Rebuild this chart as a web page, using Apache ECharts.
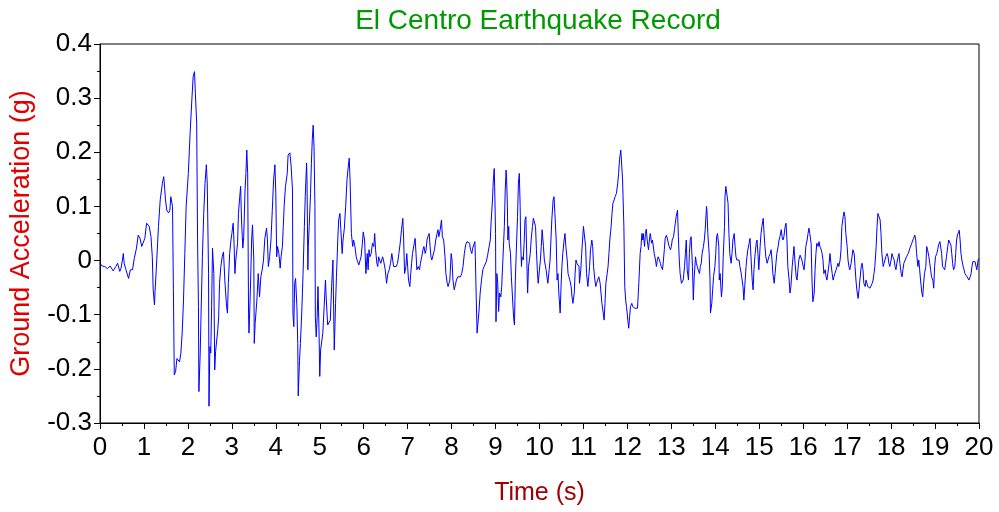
<!DOCTYPE html>
<html><head><meta charset="utf-8">
<script src="https://cdn.jsdelivr.net/npm/echarts@6/dist/echarts.min.js"></script>
<style>html,body{margin:0;padding:0;background:#fff}#c{width:999px;height:512px}</style>
</head><body><div id="c"></div>
<script>
var titleText = 'El Centro Earthquake Record';
var xName = 'Time (s)';
var yName = 'Ground Acceleration (g)';
var time = [
0.00,0.05,0.11,0.17,0.23,0.27,0.30,0.36,0.40,0.45,0.48,0.51,0.53,0.55,0.58,0.65,0.69,0.74,0.78,0.83,0.87,0.91,0.95,0.99,
1.02,1.06,1.09,1.12,1.16,1.19,1.21,1.24,1.25,1.28,1.33,1.37,1.42,1.45,1.46,1.49,1.52,1.56,1.59,1.61,1.62,1.65,1.67,1.69,1.72,1.75,1.78,1.81,1.84,1.87,1.90,1.93,1.96,2.00,
2.01,2.05,2.09,2.12,2.15,2.17,2.20,2.22,2.24,2.25,2.28,2.30,2.33,2.36,2.39,2.42,2.44,2.47,2.48,2.50,2.52,2.54,2.56,2.59,2.61,2.63,2.66,2.68,2.70,2.72,2.75,2.78,2.81,2.84,2.88,2.90,2.92,2.95,2.98,
3.00,3.03,3.05,3.07,3.09,3.13,3.15,3.18,3.20,3.22,3.25,3.27,3.30,3.32,3.34,3.36,3.38,3.39,3.42,3.45,3.47,3.50,3.51,3.53,3.55,3.57,3.60,3.63,3.66,3.69,3.72,3.75,3.79,3.81,3.83,3.86,3.89,3.92,3.95,3.98,
4.00,4.02,4.04,4.07,4.10,4.12,4.15,4.17,4.19,4.22,4.26,4.28,4.30,4.32,4.35,4.38,4.39,4.41,4.43,4.45,4.48,4.50,4.51,4.54,4.56,4.59,4.62,4.65,4.67,4.70,4.71,4.73,4.74,4.76,4.79,4.81,4.83,4.85,4.87,4.89,4.90,4.92,4.94,4.96,4.98,
5.00,5.02,5.04,5.07,5.10,5.13,5.15,5.18,5.21,5.24,5.27,5.30,5.33,5.36,5.38,5.41,5.43,5.46,5.48,5.51,5.53,5.56,5.59,5.62,5.64,5.67,5.69,5.72,5.75,5.77,5.80,5.83,5.86,5.89,5.92,5.94,5.97,5.99,
6.02,6.05,6.08,6.10,6.12,6.14,6.17,6.20,6.23,6.25,6.27,6.30,6.32,6.34,6.36,6.39,6.41,6.43,6.45,6.49,6.52,6.55,6.58,6.61,6.64,6.66,6.68,6.71,6.74,6.77,6.80,6.83,6.86,6.89,6.91,6.93,6.96,6.98,
7.00,7.02,7.05,7.07,7.09,7.11,7.15,7.17,7.19,7.21,7.24,7.27,7.29,7.32,7.35,7.37,7.40,7.42,7.44,7.46,7.49,7.51,7.53,7.55,7.58,7.61,7.64,7.67,7.69,7.71,7.74,7.77,7.79,7.82,7.85,7.87,7.90,7.92,7.94,7.96,7.99,
8.01,8.03,8.06,8.11,8.14,8.17,8.20,8.23,8.26,8.29,8.32,8.35,8.38,8.41,8.43,8.46,8.48,8.50,8.53,8.54,8.56,8.58,8.60,8.62,8.65,8.68,8.71,8.74,8.77,8.79,8.82,8.85,8.88,8.90,8.93,8.95,8.97,8.98,
9.00,9.01,9.03,9.05,9.07,9.09,9.12,9.14,9.17,9.20,9.22,9.24,9.25,9.27,9.28,9.30,9.31,9.34,9.36,9.38,9.41,9.43,9.45,9.47,9.50,9.52,9.54,9.56,9.57,9.59,9.60,9.63,9.65,9.67,9.69,9.72,9.73,9.75,9.77,9.79,9.81,9.84,9.86,9.88,9.91,9.93,9.95,9.97,
10.00,10.02,10.04,10.06,10.09,10.11,10.13,10.15,10.17,10.19,10.22,10.24,10.26,10.28,10.31,10.33,10.35,10.38,10.40,10.42,10.44,10.47,10.49,10.51,10.53,10.56,10.58,10.60,10.63,10.65,10.67,10.69,10.72,10.74,10.76,10.79,10.81,10.83,10.85,10.88,10.90,10.91,10.94,10.96,10.98,
11.00,11.03,11.05,11.07,11.10,11.12,11.14,11.16,11.19,11.21,11.23,11.26,11.28,11.30,11.32,11.35,11.38,11.40,11.42,11.45,11.47,11.49,11.51,11.54,11.56,11.58,11.60,11.63,11.65,11.67,11.70,11.72,11.75,11.78,11.80,11.82,11.85,11.87,11.89,11.92,11.94,11.96,11.98,
12.01,12.03,12.05,12.07,12.10,12.12,12.14,12.17,12.20,12.23,12.25,12.26,12.29,12.31,12.33,12.35,12.36,12.39,12.41,12.43,12.45,12.48,12.50,12.52,12.55,12.57,12.59,12.61,12.64,12.66,12.68,12.70,12.73,12.75,12.77,12.80,12.82,12.84,12.86,12.89,12.91,12.93,12.95,12.98,
13.00,13.02,13.05,13.07,13.09,13.11,13.14,13.16,13.18,13.20,13.23,13.25,13.27,13.30,13.32,13.34,13.36,13.39,13.41,13.43,13.45,13.48,13.50,13.52,13.55,13.57,13.59,13.61,13.64,13.66,13.68,13.70,13.73,13.75,13.77,13.80,13.81,13.83,13.86,13.88,13.89,13.92,13.94,13.96,13.99,
14.01,14.03,14.05,14.08,14.09,14.11,14.14,14.16,14.18,14.21,14.22,14.24,14.27,14.29,14.31,14.33,14.36,14.38,14.40,14.43,14.45,14.47,14.49,14.52,14.54,14.56,14.59,14.61,14.63,14.65,14.68,14.70,14.72,14.74,14.77,14.79,14.81,14.84,14.86,14.88,14.90,14.93,14.95,14.97,14.99,
15.02,15.04,15.06,15.09,15.11,15.13,15.15,15.18,15.20,15.22,15.25,15.27,15.29,15.31,15.34,15.36,15.38,15.40,15.43,15.45,15.47,15.50,15.52,15.54,15.56,15.59,15.61,15.63,15.65,15.68,15.70,15.72,15.75,15.77,15.79,15.81,15.84,15.86,15.88,15.90,15.93,15.95,15.97,
16.00,16.02,16.04,16.06,16.09,16.11,16.13,16.15,16.18,16.20,16.22,16.25,16.27,16.29,16.31,16.34,16.36,16.38,16.41,16.43,16.45,16.47,16.50,16.52,16.54,16.56,16.59,16.61,16.63,16.66,16.68,16.70,16.72,16.75,16.77,16.79,16.81,16.84,16.86,16.88,16.91,16.93,16.95,16.97,
17.00,17.02,17.04,17.06,17.09,17.11,17.13,17.16,17.18,17.20,17.22,17.25,17.27,17.29,17.32,17.34,17.36,17.38,17.41,17.43,17.45,17.47,17.50,17.52,17.54,17.57,17.59,17.61,17.63,17.66,17.68,17.70,17.72,17.75,17.77,17.79,17.82,17.84,17.86,17.88,17.91,17.93,17.95,17.97,
18.00,18.02,18.04,18.07,18.09,18.11,18.13,18.16,18.18,18.20,18.23,18.25,18.27,18.29,18.32,18.35,18.39,18.43,18.47,18.51,18.54,18.56,18.58,18.61,18.63,18.65,18.67,18.70,18.72,18.74,18.76,18.79,18.81,18.83,18.86,18.88,18.90,18.92,18.95,18.97,18.99,
19.01,19.04,19.06,19.08,19.11,19.13,19.15,19.17,19.20,19.22,19.24,19.26,19.29,19.31,19.33,19.36,19.38,19.40,19.42,19.45,19.47,19.49,19.51,19.55,19.57,19.59,19.61,19.64,19.66,19.68,19.70,19.73,19.75,19.77,19.80,19.82,19.84,19.86,19.89,19.91,19.93,19.95,19.98,20.00
];
var accel = [
-0.005,-0.010,-0.011,-0.015,-0.010,-0.011,-0.019,-0.011,-0.005,-0.020,-0.014,0.001,0.013,-0.005,-0.014,-0.033,-0.017,-0.017,0.004,0.023,0.047,0.041,0.026,0.023,
0.041,0.069,0.072,0.063,0.044,0.007,-0.054,-0.082,-0.060,-0.017,0.063,0.112,0.143,0.155,0.146,0.112,0.093,0.088,0.093,0.118,0.121,0.100,-0.054,-0.211,-0.205,-0.181,-0.178,-0.187,-0.171,-0.134,-0.073,0.013,0.100,0.149,
0.161,0.235,0.297,0.340,0.349,0.309,0.254,0.038,-0.085,-0.242,-0.171,-0.097,0.007,0.087,0.143,0.177,0.143,-0.024,-0.269,-0.159,-0.171,-0.085,0.023,-0.024,-0.202,-0.168,-0.171,-0.128,-0.104,-0.042,-0.011,0.007,0.016,-0.036,-0.085,-0.097,-0.042,0.013,0.038,
0.050,0.069,0.032,-0.024,0.001,0.032,0.087,0.118,0.137,0.075,0.023,0.044,0.130,0.161,0.204,0.161,-0.097,-0.134,-0.060,0.038,0.066,0.001,-0.153,-0.116,-0.113,-0.073,-0.024,-0.067,-0.030,-0.017,0.001,0.041,0.060,0.038,-0.011,0.007,0.038,0.093,0.149,0.177,
0.124,0.007,0.026,0.013,-0.014,0.007,0.026,0.063,0.100,0.137,0.161,0.195,0.192,0.199,0.173,0.130,-0.097,-0.122,-0.042,-0.033,-0.085,-0.153,-0.250,-0.184,-0.153,-0.097,-0.024,0.063,0.118,0.180,0.149,-0.017,0.026,0.063,0.124,0.180,0.223,0.250,0.210,0.100,-0.104,-0.141,-0.107,-0.048,-0.116,
-0.214,-0.165,-0.168,-0.134,-0.085,-0.036,-0.073,-0.119,-0.116,-0.110,-0.048,0.001,-0.165,-0.079,-0.030,0.038,0.075,0.087,0.057,0.013,0.038,0.060,0.100,0.149,0.167,0.189,0.149,0.050,0.026,0.038,0.026,0.007,-0.002,-0.008,-0.005,0.007,0.032,0.053,
0.038,-0.024,0.013,-0.017,0.020,0.007,0.013,0.032,0.026,0.050,0.020,-0.005,-0.011,0.007,0.001,-0.005,-0.002,0.007,0.001,-0.017,-0.042,-0.024,-0.017,-0.005,0.013,0.001,-0.011,-0.011,-0.011,-0.005,0.013,0.032,0.057,0.078,0.038,-0.024,-0.011,0.013,
-0.011,-0.036,-0.048,-0.024,-0.005,0.013,0.032,0.041,0.013,-0.017,-0.011,-0.017,-0.005,0.007,0.020,0.026,0.013,0.020,0.038,0.044,0.050,0.026,0.007,0.001,-0.002,0.020,0.038,0.050,0.057,0.044,0.057,0.075,0.044,0.038,0.007,-0.024,-0.042,-0.048,-0.048,-0.036,0.013,
0.001,-0.036,-0.054,-0.036,-0.030,-0.027,-0.030,-0.024,-0.011,0.013,0.029,0.035,0.035,0.032,0.020,0.013,0.023,0.020,0.035,0.007,-0.067,-0.134,-0.137,-0.097,-0.060,-0.036,-0.017,-0.011,-0.014,-0.002,0.010,0.013,0.038,0.072,0.112,0.149,0.170,0.137,
0.050,-0.113,-0.024,-0.042,-0.094,-0.060,-0.067,-0.048,0.007,0.063,0.130,0.167,0.155,0.100,0.038,0.063,0.032,0.013,-0.030,-0.060,-0.104,-0.119,-0.036,0.013,0.081,0.143,0.161,0.100,0.038,-0.011,0.007,0.001,0.032,0.075,0.081,-0.030,-0.060,-0.011,0.001,0.013,0.038,0.063,0.078,0.081,0.063,0.020,-0.017,-0.042,
-0.042,0.001,0.026,0.057,0.026,0.001,0.004,-0.017,-0.030,-0.042,-0.017,0.001,0.038,0.075,0.112,0.118,0.087,0.038,-0.036,-0.024,-0.060,-0.097,-0.048,-0.011,0.013,0.038,0.050,0.026,0.001,-0.024,-0.030,-0.036,-0.048,-0.067,-0.079,-0.060,-0.024,0.001,-0.005,-0.002,-0.011,-0.042,-0.017,0.013,0.038,
0.063,0.066,0.026,-0.024,-0.048,-0.030,-0.011,0.020,0.038,0.026,-0.011,-0.036,-0.048,-0.042,-0.036,-0.030,-0.042,-0.060,-0.079,-0.097,-0.110,-0.079,-0.042,-0.024,-0.011,0.013,0.038,0.063,0.087,0.106,0.112,0.118,0.124,0.143,0.161,0.186,0.204,0.204,0.149,0.063,-0.048,-0.073,-0.085,
-0.110,-0.125,-0.104,-0.085,-0.079,-0.085,-0.088,-0.088,-0.088,-0.088,-0.088,-0.042,0.013,0.026,0.050,0.038,0.050,0.026,0.050,0.058,0.038,0.020,0.038,0.050,0.032,0.038,0.041,0.013,0.001,-0.011,0.001,0.007,0.001,-0.005,-0.011,-0.017,0.001,0.020,0.041,0.047,0.050,0.047,0.026,0.020,
0.026,0.038,0.044,0.057,0.069,0.081,0.093,0.044,0.001,-0.024,-0.042,-0.042,-0.036,-0.011,0.013,0.038,-0.017,-0.036,0.013,0.038,0.044,-0.011,-0.073,-0.030,0.007,-0.005,-0.011,-0.017,-0.024,-0.011,-0.005,0.013,0.026,0.038,0.057,0.100,0.093,0.050,0.013,-0.036,-0.097,-0.079,-0.054,-0.030,-0.011,
0.013,0.044,0.050,0.026,-0.036,-0.024,-0.067,-0.048,0.007,0.063,0.118,0.137,0.140,0.106,0.050,0.013,-0.005,0.013,0.038,0.050,0.026,0.007,0.001,-0.002,0.001,-0.011,-0.024,-0.036,-0.048,-0.073,-0.036,-0.011,0.007,0.020,0.032,0.041,0.038,-0.036,-0.054,-0.017,0.007,0.032,0.038,0.013,-0.017,
0.026,0.050,0.063,0.078,0.050,0.026,0.007,-0.005,0.001,0.007,0.013,0.020,0.001,-0.024,-0.042,-0.024,-0.005,0.013,0.026,0.038,0.044,0.057,0.044,0.038,0.044,0.063,0.069,0.038,-0.011,-0.036,-0.060,-0.048,-0.011,0.007,0.026,0.001,-0.030,-0.036,-0.017,0.001,0.010,0.007,0.001,
-0.011,-0.017,0.001,0.026,0.038,0.050,0.060,0.050,0.032,-0.036,-0.076,-0.060,-0.017,0.013,0.032,0.026,0.035,0.026,0.020,0.013,0.001,-0.024,-0.017,-0.030,-0.036,-0.024,-0.005,0.013,-0.005,-0.024,-0.036,-0.030,-0.024,-0.017,-0.011,-0.005,-0.011,0.001,0.020,0.063,0.081,0.090,0.081,0.050,
0.026,0.001,-0.011,-0.017,-0.005,0.007,0.020,0.013,-0.011,-0.036,-0.054,-0.070,-0.054,-0.036,-0.011,-0.005,-0.017,-0.042,-0.048,-0.036,-0.042,-0.048,-0.048,-0.051,-0.048,-0.042,-0.036,-0.024,-0.011,0.026,0.063,0.087,0.084,0.075,0.050,0.013,-0.011,-0.005,0.001,0.007,0.013,0.007,-0.005,-0.011,
0.001,0.013,0.007,0.001,-0.011,-0.017,-0.005,0.007,0.013,-0.005,-0.024,-0.030,-0.017,-0.005,0.001,0.007,0.013,0.023,0.032,0.041,0.047,0.038,0.013,-0.011,0.001,-0.017,-0.036,-0.060,-0.067,-0.042,-0.024,-0.011,0.026,0.020,0.007,-0.005,-0.017,-0.030,-0.036,-0.051,-0.011,
0.007,0.013,0.020,0.029,0.035,0.038,0.013,-0.011,-0.014,-0.017,-0.014,0.007,0.026,0.038,0.038,0.029,0.013,-0.005,-0.017,-0.011,0.013,0.038,0.047,0.056,0.038,0.013,0.001,-0.011,-0.017,-0.024,-0.027,-0.030,-0.033,-0.036,-0.030,-0.024,-0.011,-0.002,0.001,-0.002,-0.005,-0.017,0.001,0.004
];
var xTicks = {min: 0, max: 20, interval: 1};
var yTicks = {min: -0.3, max: 0.4, interval: 0.1};

var chart = echarts.init(document.getElementById('c'), null, {renderer: 'canvas'});
var FONT = '"Liberation Sans", Arial, sans-serif';
var data = time.map(function (t, i) { return [t, accel[i]]; });
chart.setOption({
  animation: false,
  backgroundColor: '#ffffff',
  title: {
    text: titleText, left: 533, top: 2, textAlign: 'center',
    textStyle: {color: '#009a00', fontSize: 28, fontWeight: 'normal', fontFamily: FONT}
  },
  grid: {left: 100, right: 20, top: 44, bottom: 89, show: true, borderColor: '#000', borderWidth: 1, backgroundColor: 'transparent'},
  xAxis: {
    type: 'value', min: xTicks.min, max: xTicks.max, interval: xTicks.interval,
    name: xName, nameLocation: 'middle', nameGap: 58,
    nameTextStyle: {color: '#a00000', fontSize: 25, fontFamily: FONT},
    axisLine: {show: true, onZero: false, lineStyle: {color: '#000', width: 1}},
    axisTick: {show: true, inside: false, length: 6, lineStyle: {color: '#000'}},
    minorTick: {show: true, splitNumber: 2, length: 3, lineStyle: {color: '#000'}},
    axisLabel: {color: '#000', fontSize: 26, fontFamily: FONT, margin: 12},
    splitLine: {show: false}
  },
  yAxis: {
    type: 'value', min: yTicks.min, max: yTicks.max, interval: yTicks.interval,
    name: yName, nameLocation: 'middle', nameGap: 65, nameRotate: 90,
    nameTextStyle: {color: '#e00000', fontSize: 27, fontFamily: FONT},
    axisLine: {show: true, onZero: false, lineStyle: {color: '#000', width: 1}},
    axisTick: {show: true, inside: false, length: 6, lineStyle: {color: '#000'}},
    minorTick: {show: true, splitNumber: 2, length: 3, lineStyle: {color: '#000'}},
    axisLabel: {color: '#000', fontSize: 26, fontFamily: FONT, margin: 8,
      formatter: function (v) { return String(Math.round(v * 10) / 10); }},
    splitLine: {show: false}
  },
  series: [{
    type: 'line', data: data, showSymbol: false, symbol: 'none',
    lineStyle: {color: '#0000ff', width: 1}, silent: true
  }]
});
</script>
</body></html>
